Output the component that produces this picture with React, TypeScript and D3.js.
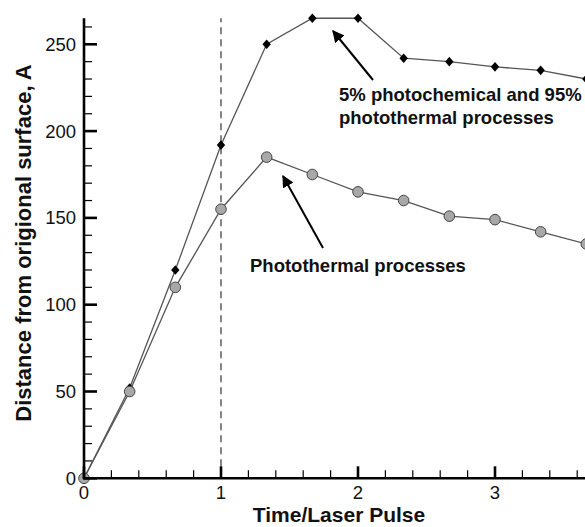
import React from 'react';
import * as d3 from 'd3';

// time in laser pulses
const pulses = [0, 1 / 3, 2 / 3, 1, 4 / 3, 5 / 3, 2, 7 / 3, 8 / 3, 3, 10 / 3, 11 / 3];
// 5% photochemical + 95% photothermal
const mixedDepth = [0, 52, 120, 192, 250, 265, 265, 242, 240, 237, 235, 230];
// photothermal only
const thermalDepth = [0, 50, 110, 155, 185, 175, 165, 160, 151, 149, 142, 135];

const xMajor = [0, 1, 2, 3];
const yMajor = [0, 50, 100, 150, 200, 250];

const FONT = '"Liberation Sans", Arial, sans-serif';

export default function App() {
  const width = 585;
  const height = 527;
  const x0 = 84;
  const y0 = 478.3;

  const x = d3.scaleLinear().domain([0, 4]).range([x0, x0 + 4 * 137]);
  const y = d3.scaleLinear().domain([0, 50]).range([y0, y0 - 86.8]);
  const yTop = 265;

  const xMinor = d3.range(0, 4.01, 0.2).filter(v => Math.abs(v - Math.round(v)) > 1e-6);
  const yMinor = d3.range(0, 261, 10).filter(v => v % 50 !== 0);

  const line = d3.line<number>()
    .x((_, i) => x(pulses[i]))
    .y(d => y(d));

  return (
    <svg
      width={width}
      height={height}
      style={{ position: 'absolute', left: 0, top: 0, background: '#fff' }}
      fontFamily={FONT}
    >
      {/* dashed line at one pulse */}
      <line x1={x(1)} x2={x(1)} y1={y(0)} y2={y(yTop)} stroke="#444" strokeWidth={1.3} strokeDasharray="7,5" />

      {/* series */}
      <path d={line(mixedDepth) || ''} fill="none" stroke="#555" strokeWidth={1.3} />
      <path d={line(thermalDepth) || ''} fill="none" stroke="#555" strokeWidth={1.3} />
      {mixedDepth.map((d, i) => (
        <path
          key={'m' + i}
          d={`M${x(pulses[i])},${y(d) - 4.8}l4.2,4.8l-4.2,4.8l-4.2,-4.8z`}
          fill="#000"
        />
      ))}
      {thermalDepth.map((d, i) => (
        <circle key={'t' + i} cx={x(pulses[i])} cy={y(d)} r={5.3} fill="#a8a8a8" stroke="#444" strokeWidth={1} />
      ))}

      {/* Y axis */}
      <line x1={x0} x2={x0} y1={y(0) + 1} y2={y(yTop)} stroke="#000" strokeWidth={2.6} />
      {yMinor.map(t => (
        <line key={'ym' + t} x1={x0} x2={x0 + 8} y1={y(t)} y2={y(t)} stroke="#000" strokeWidth={1.2} />
      ))}
      {yMajor.map(t => (
        <g key={'y' + t}>
          <line x1={x0} x2={x0 + 13} y1={y(t)} y2={y(t)} stroke="#000" strokeWidth={2.6} />
          <text x={x0 - 8} y={y(t) + 6.5} textAnchor="end" fontSize={18.5} fill="#111">{t}</text>
        </g>
      ))}

      {/* X axis */}
      <line x1={x0 - 1} x2={width} y1={y0} y2={y0} stroke="#000" strokeWidth={2.6} />
      {xMinor.map(t => (
        <line key={'xm' + t} x1={x(t)} x2={x(t)} y1={y0} y2={y0 - 8} stroke="#000" strokeWidth={1.2} />
      ))}
      {xMajor.map(t => (
        <g key={'x' + t}>
          <line x1={x(t)} x2={x(t)} y1={y0} y2={y0 - 12} stroke="#000" strokeWidth={2.6} />
          <text x={x(t)} y={y0 + 21} textAnchor="middle" fontSize={18.5} fill="#111">{t}</text>
        </g>
      ))}

      {/* axis titles */}
      <text x={339} y={522} textAnchor="middle" fontSize={21} fontWeight="bold" fill="#111">Time/Laser Pulse</text>
      <text
        x={0}
        y={0}
        transform="translate(31,243) rotate(-90)"
        textAnchor="middle"
        fontSize={22}
        fontWeight="bold"
        fill="#111"
      >
        Distance from origional surface, A
      </text>

      {/* annotations */}
      <defs>
        <marker id="ah" viewBox="0 0 10 10" refX="9" refY="5" markerWidth="6" markerHeight="6" orient="auto">
          <path d="M0,0L10,5L0,10z" fill="#000" />
        </marker>
      </defs>
      <line x1={373} y1={80} x2={333} y2={31} stroke="#000" strokeWidth={2} markerEnd="url(#ah)" />
      <line x1={323} y1={248} x2={283} y2={176} stroke="#000" strokeWidth={2} markerEnd="url(#ah)" />
      <text x={339} y={101} fontSize={18.5} fontWeight="bold" fill="#111">5% photochemical and 95%</text>
      <text x={339} y={124} fontSize={18.5} fontWeight="bold" fill="#111">photothermal processes</text>
      <text x={250} y={272} fontSize={18.5} fontWeight="bold" fill="#111">Photothermal processes</text>
    </svg>
  );
}
